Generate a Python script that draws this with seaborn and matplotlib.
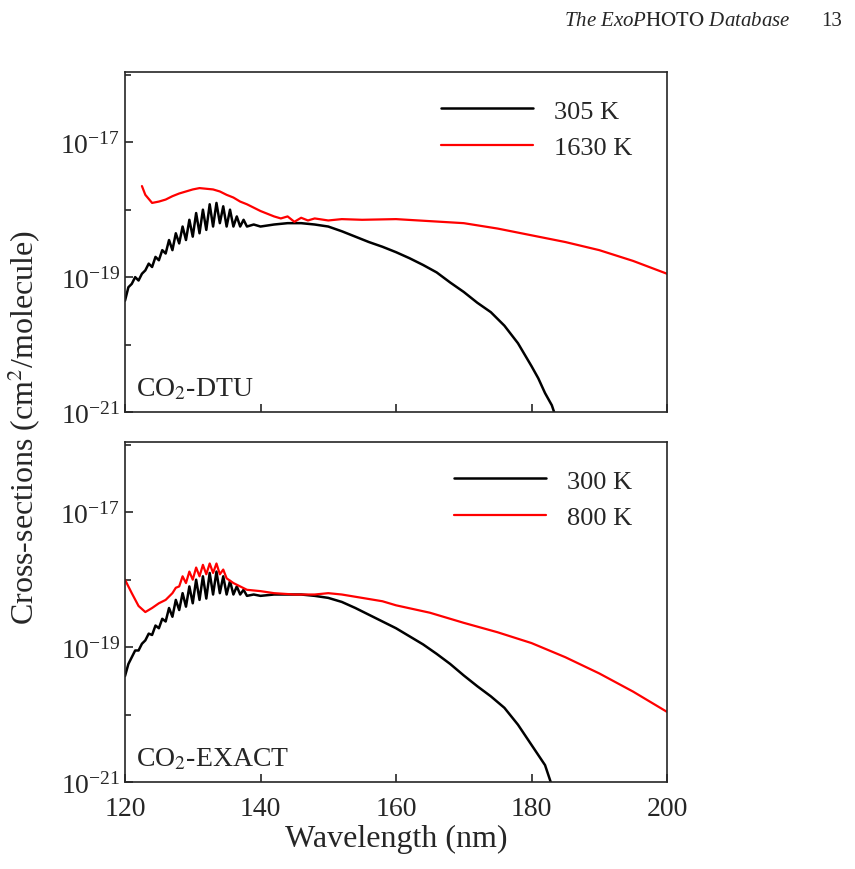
import numpy as np
import matplotlib.pyplot as plt
import seaborn as sns
from matplotlib.ticker import FixedLocator, NullFormatter

# log10 cross-sections
wl_dtu_305 = [120, 120.5, 121, 121.5, 122, 122.5, 123, 123.5, 124, 124.5, 125, 125.5, 126, 126.5,
              127, 127.5, 128, 128.5, 129, 129.5, 130, 130.5, 131, 131.5, 132, 132.5, 133, 133.5,
              134, 134.5, 135, 135.5, 136, 136.5, 137, 137.5, 138, 139, 140, 142, 144, 146, 148,
              150, 152, 154, 156, 158, 160, 162, 164, 166, 168, 170, 172, 174, 176, 178, 180,
              181, 182, 183, 183.5]
lg_dtu_305 = [-19.35, -19.15, -19.1, -19.0, -19.05, -18.95, -18.9, -18.8, -18.85, -18.7, -18.75,
              -18.6, -18.65, -18.45, -18.6, -18.35, -18.5, -18.25, -18.45, -18.15, -18.4, -18.05,
              -18.35, -18.0, -18.3, -17.92, -18.25, -17.9, -18.2, -17.95, -18.25, -18.0, -18.25,
              -18.1, -18.25, -18.15, -18.25, -18.22, -18.25, -18.22, -18.2, -18.2, -18.22, -18.25,
              -18.32, -18.4, -18.48, -18.55, -18.63, -18.72, -18.82, -18.93, -19.08, -19.22,
              -19.38, -19.52, -19.72, -19.98, -20.32, -20.5, -20.72, -20.9, -21.05]
wl_dtu_1630 = [122.5, 123, 124, 125, 126, 127, 128, 129, 130, 131, 132, 133, 134, 135, 136, 137,
               138, 139, 140, 141, 142, 143, 144, 145, 146, 147, 148, 150, 152, 155, 160, 165,
               170, 175, 180, 185, 190, 195, 200]
lg_dtu_1630 = [-17.65, -17.78, -17.9, -17.88, -17.85, -17.8, -17.76, -17.73, -17.7, -17.68,
               -17.69, -17.7, -17.73, -17.78, -17.82, -17.88, -17.92, -17.97, -18.02, -18.06,
               -18.1, -18.13, -18.1, -18.18, -18.12, -18.16, -18.13, -18.16, -18.14, -18.15,
               -18.14, -18.17, -18.2, -18.28, -18.38, -18.48, -18.6, -18.76, -18.95]
wl_ex_300 = [120, 120.5, 121, 121.5, 122, 122.5, 123, 123.5, 124, 124.5, 125, 125.5, 126, 126.5,
             127, 127.5, 128, 128.5, 129, 129.5, 130, 130.5, 131, 131.5, 132, 132.5, 133, 133.5,
             134, 134.5, 135, 135.5, 136, 136.5, 137, 137.5, 138, 139, 140, 142, 144, 146, 148,
             150, 152, 154, 156, 158, 160, 162, 164, 166, 168, 170, 172, 174, 176, 178, 180,
             181, 182, 183]
lg_ex_300 = [-19.43, -19.25, -19.15, -19.05, -19.05, -18.95, -18.9, -18.8, -18.82, -18.68,
             -18.72, -18.58, -18.62, -18.42, -18.55, -18.3, -18.45, -18.2, -18.4, -18.1, -18.35,
             -18.0, -18.3, -17.95, -18.28, -17.9, -18.22, -17.88, -18.2, -17.95, -18.22, -18.02,
             -18.22, -18.1, -18.22, -18.15, -18.24, -18.22, -18.24, -18.22, -18.22, -18.22,
             -18.24, -18.27, -18.33, -18.42, -18.52, -18.62, -18.72, -18.84, -18.96, -19.1,
             -19.25, -19.42, -19.58, -19.73, -19.9, -20.15, -20.45, -20.6, -20.75, -21.05]
wl_ex_800 = [120, 121, 122, 123, 124, 125, 126, 127, 127.5, 128, 128.5, 129, 129.5, 130, 130.5,
             131, 131.5, 132, 132.5, 133, 133.5, 134, 134.5, 135, 136, 137, 138, 140, 142, 145,
             148, 150, 152, 155, 158, 160, 165, 170, 175, 180, 185, 190, 195, 200]
lg_ex_800 = [-18.0, -18.2, -18.39, -18.48, -18.42, -18.35, -18.3, -18.2, -18.12, -18.1, -17.95,
             -18.05, -17.88, -18.0, -17.82, -17.95, -17.78, -17.92, -17.76, -17.9, -17.76, -17.92,
             -17.85, -17.98, -18.05, -18.1, -18.15, -18.17, -18.2, -18.22, -18.22, -18.2, -18.22,
             -18.27, -18.32, -18.38, -18.49, -18.64, -18.78, -18.94, -19.15, -19.39, -19.66,
             -19.96]

sns.set_theme(style="ticks")
plt.rcParams['font.family'] = ['Liberation Serif', 'DejaVu Serif']
plt.rcParams['mathtext.fontset'] = 'stix'

fig = plt.figure(figsize=(8.55, 8.7), dpi=100)
ax1 = fig.add_axes([125 / 855, 1 - 413 / 870, 542 / 855, 340 / 870])
ax2 = fig.add_axes([125 / 855, 1 - 783 / 870, 542 / 855, 340 / 870])

panels = [
    (ax1, wl_dtu_305, lg_dtu_305, "305 K", wl_dtu_1630, lg_dtu_1630, "1630 K", "CO$_2$-DTU"),
    (ax2, wl_ex_300, lg_ex_300, "300 K", wl_ex_800, lg_ex_800, "800 K", "CO$_2$-EXACT"),
]
for ax, x1, y1, l1, x2, y2, l2, name in panels:
    sns.lineplot(x=x1, y=10 ** np.array(y1), ax=ax, color="black", lw=1.8, label=l1)
    sns.lineplot(x=x2, y=10 ** np.array(y2), ax=ax, color="red", lw=1.6, label=l2)
    ax.set_yscale("log")
    ax.set_ylim(1e-21, 1.1e-16)
    ax.set_xlim(120, 200)
    ax.yaxis.set_major_locator(FixedLocator([1e-21, 1e-19, 1e-17]))
    ax.yaxis.set_minor_locator(FixedLocator([1e-20, 1e-18, 1e-16]))
    ax.yaxis.set_minor_formatter(NullFormatter())
    ax.set_xticks([120, 140, 160, 180, 200])
    ax.tick_params(direction="in", labelsize=20, length=6, width=1.2)
    ax.tick_params(axis="x", pad=10)
    ax.tick_params(which="minor", direction="in", length=4, width=1.2)
    for s in ax.spines.values():
        s.set_linewidth(1.2)
    ax.set_xlabel("")
    ax.set_ylabel("")
    ax.legend(loc="upper right", frameon=False, fontsize=19, handlelength=3.5,
              bbox_to_anchor=(0.98, 0.99))
    ax.text(0.02, 0.03, name, transform=ax.transAxes, fontsize=20, va="bottom")

ax1.set_xticklabels([])
ax2.set_xlabel("Wavelength (nm)", fontsize=23, labelpad=2)
fig.text(0.028, 1 - 428 / 870, "Cross-sections (cm$^2$/molecule)", rotation=90,
         fontsize=23, va="center", ha="center")
fig.text(0.925, 0.975, "The ExoP$\\mathrm{HOTO}$ Database", fontsize=15, style="italic",
         ha="right", va="center")
fig.text(0.985, 0.975, "13", fontsize=15, ha="right", va="center")

plt.savefig("out.png")
